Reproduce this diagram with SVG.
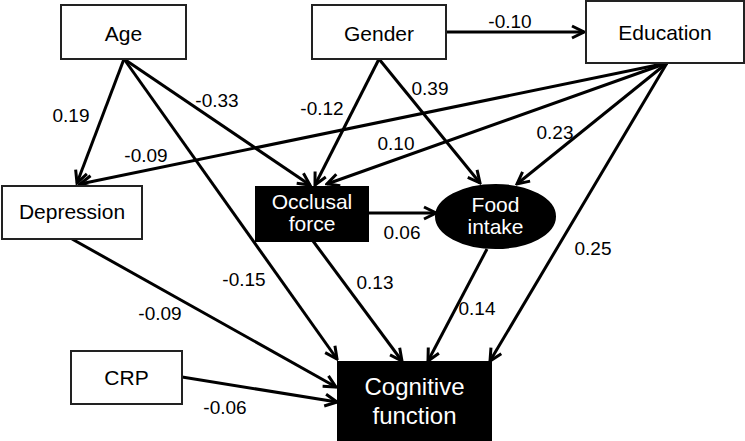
<svg xmlns="http://www.w3.org/2000/svg" width="745" height="441" viewBox="0 0 745 441">
<style>
.box{fill:#fff;stroke:#222;stroke-width:2}
.dark{fill:#000;stroke:#000;stroke-width:2}
.lbl{font-family:"Liberation Sans",Arial,sans-serif;font-size:21px;fill:#000;text-anchor:middle}
.wl{font-family:"Liberation Sans",Arial,sans-serif;font-size:21px;fill:#fff;text-anchor:middle}
.cl{font-family:"Liberation Sans",Arial,sans-serif;font-size:24px;fill:#fff;text-anchor:middle}
.el{font-family:"Liberation Sans",Arial,sans-serif;font-size:19px;fill:#000;text-anchor:middle}
.edge{stroke:#000;stroke-width:3;fill:none;marker-end:url(#arr)}
</style>
<defs>
<marker id="arr" viewBox="0 0 16 16" refX="14" refY="8" markerWidth="16" markerHeight="16" markerUnits="userSpaceOnUse" orient="auto">
<path d="M2,2 L14,8 L2,14" fill="none" stroke="#000" stroke-width="3"/>
</marker>
</defs>
<rect width="745" height="441" fill="#fff"/>
<g id="connectors">
<line class="edge" x1="446" y1="32" x2="584" y2="32"/>
<line class="edge" x1="124" y1="59" x2="77" y2="183"/>
<line class="edge" x1="124" y1="59" x2="310" y2="185"/>
<line class="edge" x1="124" y1="59" x2="337" y2="359"/>
<line class="edge" x1="379" y1="59" x2="315" y2="185"/>
<line class="edge" x1="379" y1="59" x2="480" y2="183"/>
<line class="edge" x1="667" y1="63" x2="80" y2="184"/>
<line class="edge" x1="667" y1="63" x2="327" y2="184"/>
<line class="edge" x1="667" y1="63" x2="517" y2="184"/>
<line class="edge" x1="667" y1="63" x2="490" y2="361"/>
<line class="edge" x1="368" y1="213" x2="436" y2="213"/>
<line class="edge" x1="313" y1="241" x2="402" y2="361"/>
<line class="edge" x1="487" y1="249" x2="428" y2="361"/>
<line class="edge" x1="72" y1="239" x2="336" y2="387"/>
<line class="edge" x1="182" y1="377" x2="337" y2="402"/>
</g>
<g id="edge-labels">
<text class="el" x="510" y="28">-0.10</text>
<text class="el" x="71" y="122">0.19</text>
<text class="el" x="217" y="107">-0.33</text>
<text class="el" x="322" y="115">-0.12</text>
<text class="el" x="430" y="95">0.39</text>
<text class="el" x="146" y="162">-0.09</text>
<text class="el" x="396" y="150">0.10</text>
<text class="el" x="555" y="139">0.23</text>
<text class="el" x="593" y="255">0.25</text>
<text class="el" x="402" y="239">0.06</text>
<text class="el" x="375" y="289">0.13</text>
<text class="el" x="477" y="315">0.14</text>
<text class="el" x="244" y="286">-0.15</text>
<text class="el" x="160" y="320">-0.09</text>
<text class="el" x="225" y="414">-0.06</text>
</g>
<g id="age"><rect class="box" x="61" y="5" width="125" height="54"/><text class="lbl" x="123.5" y="41">Age</text></g>
<g id="gender"><rect class="box" x="312" y="5" width="134" height="54"/><text class="lbl" x="379" y="41">Gender</text></g>
<g id="education"><rect class="box" x="586" y="1" width="158" height="62"/><text class="lbl" x="665" y="40">Education</text></g>
<g id="depression"><rect class="box" x="2" y="186" width="140" height="53"/><text class="lbl" x="72" y="219">Depression</text></g>
<g id="crp"><rect class="box" x="71" y="351" width="111" height="53"/><text class="lbl" x="126.5" y="385">CRP</text></g>
<g id="occlusal"><rect class="dark" x="256" y="187" width="112" height="54"/><text class="wl" x="312" y="209">Occlusal</text><text class="wl" x="312" y="231">force</text></g>
<g id="food"><ellipse class="dark" cx="495.5" cy="216.5" rx="59.5" ry="31.5"/><text class="wl" x="495.5" y="212">Food</text><text class="wl" x="495.5" y="234">intake</text></g>
<g id="cognitive"><rect class="dark" x="338" y="362" width="153" height="78"/><text class="cl" x="414.5" y="395">Cognitive</text><text class="cl" x="414.5" y="424">function</text></g>
</svg>
